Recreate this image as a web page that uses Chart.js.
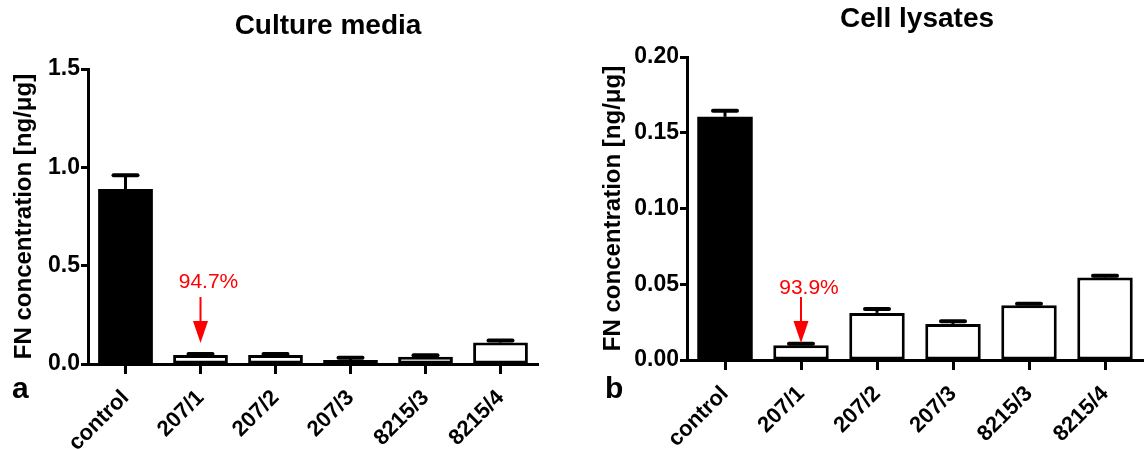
<!DOCTYPE html>
<html><head><meta charset="utf-8">
<script src="https://cdn.jsdelivr.net/npm/chart.js@4.4.1/dist/chart.umd.min.js"></script>
<style>
html,body{margin:0;padding:0;background:#fff;overflow:hidden;}
#wrap{position:relative;width:1146px;height:450px;background:#fff;}
canvas{position:absolute;top:0;}
</style></head><body>
<div id="wrap">
<canvas id="cA" width="573" height="450" style="left:0px"></canvas>
<canvas id="cB" width="573" height="450" style="left:573px"></canvas>
</div>
<script>
// ---- data ----
const categories = ['control', '207/1', '207/2', '207/3', '8215/3', '8215/4'];
const mediaValues = [0.89, 0.046, 0.046, 0.02, 0.037, 0.109];
const mediaErrors = [0.07, 0.005, 0.005, 0.012, 0.007, 0.01];
const lysateValues = [0.1605, 0.0097, 0.0311, 0.0238, 0.0361, 0.0545];
const lysateErrors = [0.004, 0.001, 0.0026, 0.0017, 0.0011, 0.0011];
const mediaTicks = [0, 0.5, 1.0, 1.5];
const lysateTicks = [0, 0.05, 0.10, 0.15, 0.20];
const panelTitles = ['Culture media', 'Cell lysates'];
const yAxisTitle = 'FN concentration [ng/μg]';
const panelLetters = ['a', 'b'];
const reductionLabels = ['94.7%', '93.9%'];
const reductionIndex = 1;

const FONT = '"Liberation Sans", Arial, Helvetica, sans-serif';
const barFills = ['#000000', '#ffffff', '#ffffff', '#ffffff', '#ffffff', '#ffffff'];
const barBorders = [0, 3, 3, 3, 3, 3];

function overlay(o) {
  return {
    id: 'overlay' + o.key,
    afterDatasetsDraw(chart) {
      const ctx = chart.ctx;
      const meta = chart.getDatasetMeta(0);
      const ys = chart.scales.y;
      ctx.save();
      ctx.strokeStyle = '#000';
      meta.data.forEach((bar, i) => {
        const v = o.values[i], e = o.errors[i];
        const yBar = ys.getPixelForValue(v);
        const yTop = ys.getPixelForValue(v + e);
        ctx.lineWidth = 3; ctx.lineCap = 'butt';
        ctx.beginPath(); ctx.moveTo(bar.x, yBar); ctx.lineTo(bar.x, yTop); ctx.stroke();
        ctx.lineWidth = 4; ctx.lineCap = 'round';
        ctx.beginPath(); ctx.moveTo(bar.x - 12, yTop); ctx.lineTo(bar.x + 12, yTop); ctx.stroke();
      });
      // reduction arrow + label
      const ax = meta.data[reductionIndex].x;
      ctx.strokeStyle = '#ff0000'; ctx.fillStyle = '#ff0000';
      ctx.lineWidth = 2; ctx.lineCap = 'butt';
      ctx.beginPath(); ctx.moveTo(ax, o.arrowTop); ctx.lineTo(ax, o.arrowTip - 20); ctx.stroke();
      ctx.beginPath();
      ctx.moveTo(ax - 7.5, o.arrowTip - 22);
      ctx.lineTo(ax + 7.5, o.arrowTip - 22);
      ctx.lineTo(ax, o.arrowTip);
      ctx.closePath(); ctx.fill();
      ctx.font = '21px ' + FONT;
      ctx.textAlign = 'center'; ctx.textBaseline = 'alphabetic';
      ctx.fillText(o.label, ax + 8, o.labelBaseline);
      // title
      ctx.fillStyle = '#000';
      ctx.font = 'bold 28px ' + FONT;
      ctx.fillText(o.title, o.titleX, o.titleBaseline);
      // panel letter
      ctx.font = 'bold 30px ' + FONT;
      ctx.textAlign = 'left';
      ctx.fillText(o.letter, o.letterX, 398);
      ctx.restore();
    }
  };
}

function makeChart(id, o) {
  const dec = o.decimals;
  return new Chart(document.getElementById(id), {
    type: 'bar',
    data: {
      labels: categories,
      datasets: [{
        data: o.values,
        backgroundColor: barFills,
        borderColor: '#000',
        borderWidth: barBorders,
        borderSkipped: false,
        barPercentage: 0.73,
        categoryPercentage: 1.0
      }]
    },
    options: {
      responsive: false,
      animation: false,
      devicePixelRatio: 1,
      layout: { padding: { top: o.padTop, left: 0, right: o.padRight, bottom: 0 } },
      plugins: { legend: { display: false }, title: { display: false }, tooltip: { enabled: false } },
      scales: {
        x: {
          afterFit: s => { s.height = o.xHeight; },
          border: { display: true, color: '#000', width: 3 },
          grid: { display: true, offset: false, drawOnChartArea: false, drawTicks: true, tickLength: 10, tickWidth: 3, tickColor: '#000' },
          ticks: { minRotation: 45, maxRotation: 45, autoSkip: false, color: '#000', padding: 11,
                   font: { family: FONT, size: 22, weight: 'bold' } }
        },
        y: {
          min: o.ticks[0], max: o.ticks[o.ticks.length - 1],
          afterBuildTicks: s => { s.ticks = o.ticks.map(v => ({ value: v })); },
          afterFit: s => { s.width = o.yWidth; },
          border: { display: true, color: '#000', width: 3 },
          grid: { display: true, drawOnChartArea: false, drawTicks: true, tickLength: 7, tickWidth: 3, tickColor: '#000' },
          ticks: { color: '#000', padding: 1, font: { family: FONT, size: 23, weight: 'bold' },
                   callback: v => Number(v).toFixed(dec) },
          title: { display: true, text: yAxisTitle, color: '#000',
                   font: { family: FONT, size: 24, weight: 'bold' }, padding: { top: o.yTitlePad, bottom: 0 } }
        }
      }
    },
    plugins: [overlay(o)]
  });
}

makeChart('cA', {
  key: 'A', values: mediaValues, errors: mediaErrors, ticks: mediaTicks, decimals: 1,
  padTop: 69, padRight: 35, xHeight: 86, yWidth: 88, yTitlePad: 10,
  arrowTop: 297, arrowTip: 343, label: reductionLabels[0], labelBaseline: 288,
  title: panelTitles[0], titleX: 328, titleBaseline: 34, letter: panelLetters[0], letterX: 12
});
makeChart('cB', {
  key: 'B', values: lysateValues, errors: lysateErrors, ticks: lysateTicks, decimals: 2,
  padTop: 57, padRight: 3, xHeight: 90, yWidth: 114, yTitlePad: 26,
  arrowTop: 297, arrowTip: 343, label: reductionLabels[1], labelBaseline: 294,
  title: panelTitles[1], titleX: 344, titleBaseline: 27, letter: panelLetters[1], letterX: 32
});
</script>
</body></html>
